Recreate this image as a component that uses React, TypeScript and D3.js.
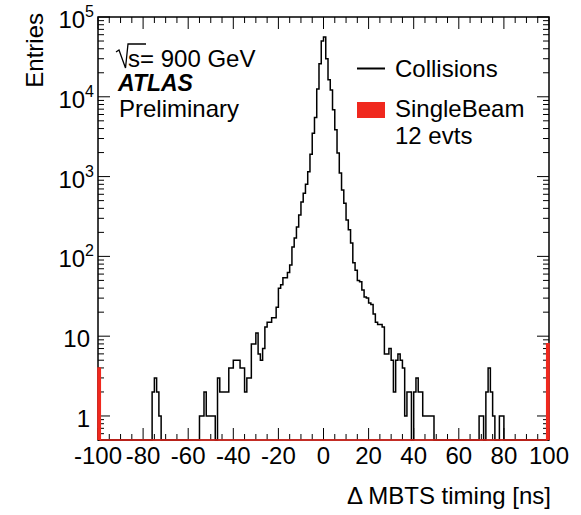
import React from "react";
import * as d3 from "d3";

// ---- data ----
const xTicksMajor = [-100, -80, -60, -40, -20, 0, 20, 40, 60, 80, 100];
const xTickLabels = ["-100", "-80", "-60", "-40", "-20", "0", "20", "40", "60", "80", "100"];
const yTickValues = [1, 10, 100, 1000, 10000, 100000];
const yTickBase = ["1", "10", "10", "10", "10", "10"];
const yTickExp = ["", "", "2", "3", "4", "5"];

const binWidth = 1; // ns
const histLow = -100;
const histHigh = 100;

// Collisions: counts per 1 ns bin, first bin starts at -76 ns
const collisionsFirstBin = -76;
const collisionsCounts = [
  2, 3, 2, 1, // -76..-73
  0, 0, 0, 0, 0, 0, 0, 0, 0, 0, 0, 0, 0, 0, 0, 0, 0, // -72..-56
  1, 1, 2, 1, 1, 1, 1, 0, // -55..-48
  3, 2, 2, 2, 2, // -47..-43
  4, 4, 5, 5, 5, 4, 4, 2, 3, 3, // -42..-33
  8, 8, 11, 6, 5, 7, // -32..-27
  13, 15, 15, 17, 17, 23, // -26..-21
  40, 44, 54, 54, 63, 78, // -20..-15
  131, 170, 234, 330, 480, 620, 800, 1150, 1900, 3500, 5500, 12500, 26000, 50000, // -14..-1
  56000, 30000, 16300, 12200, 6900, 3860, 1970, 1110, 680, 465, // 0..9
  285, 215, 147, 83, 67, 50, 48, 38, 31, 30, // 10..19
  26, 25, 19, 15, 14, 14, 13, 6, 6, 7, // 20..29
  5, 2, 5, 6, 5, 4, 1, 2, 2, 0, // 30..39
  2, 3, 2, 2, 1, 1, 1, 1, 1, // 40..48
  0, 0, 0, 0, 0, 0, 0, 0, 0, 0, 0, 0, 0, 0, 0, 0, 0, 0, 0, 0, // 49..68
  1, 1, 0, 2, 4, 2, 1, 0, 0, 1, 1, // 69..79
];

// SingleBeam: 12 events, all in the edge bins
const singleBeamBins = [-100, 99];
const singleBeamCounts = [4, 8];

const legendLabels = ["Collisions", "SingleBeam", "12 evts"];

// ---- layout ----
const W = 581;
const H = 515;
const frame = { left: 98, right: 549, top: 17, bottom: 440 };
const yMin = 0.5;
const yMax = 1e5;
const RED = "#f0281e";
const FONT = "'Liberation Sans', Arial, Helvetica, sans-serif";

function binsFull(firstBin: number, counts: number[]) {
  const n = Math.round((histHigh - histLow) / binWidth);
  const arr: { x0: number; x1: number; v: number }[] = [];
  for (let i = 0; i < n; i++) {
    const x0 = histLow + i * binWidth;
    const idx = Math.round((x0 - firstBin) / binWidth);
    const v = idx >= 0 && idx < counts.length ? counts[idx] : 0;
    arr.push({ x0, x1: x0 + binWidth, v });
  }
  return arr;
}

export default function App() {
  const x = d3.scaleLinear().domain([histLow, histHigh]).range([frame.left, frame.right]);
  const y = d3.scaleLog().domain([yMin, yMax]).range([frame.bottom, frame.top]).clamp(true);

  const yv = (v: number) => (v <= 0 ? frame.bottom : y(Math.max(v, yMin)));

  const coll = binsFull(collisionsFirstBin, collisionsCounts);
  const stepPath = (bins: { x0: number; x1: number; v: number }[]) => {
    let p = `M${x(bins[0].x0)},${frame.bottom}`;
    bins.forEach((b) => {
      p += `L${x(b.x0)},${yv(b.v)}L${x(b.x1)},${yv(b.v)}`;
    });
    p += `L${x(bins[bins.length - 1].x1)},${frame.bottom}`;
    return p;
  };
  const collPath = stepPath(coll);

  const sbCounts = new Array(Math.round((histHigh - histLow) / binWidth)).fill(0);
  singleBeamBins.forEach((b, i) => {
    sbCounts[Math.round((b - histLow) / binWidth)] = singleBeamCounts[i];
  });
  const sb = binsFull(histLow, sbCounts);
  const sbPath = stepPath(sb);

  // ticks
  const xMinor = d3.range(histLow, histHigh + 0.001, 5).filter((v) => !xTicksMajor.includes(v));
  const yMinor: number[] = [];
  for (let e = -1; e <= 4; e++) {
    for (let k = 2; k <= 9; k++) {
      const v = k * Math.pow(10, e);
      if (v > yMin && v < yMax) yMinor.push(v);
    }
  }
  const majLen = 12;
  const minLen = 6;

  return (
    <svg
      width={W}
      height={H}
      style={{ position: "absolute", left: 0, top: 0, background: "#fff" }}
      fontFamily={FONT}
    >
      <rect x={0} y={0} width={W} height={H} fill="#fff" />
      {/* collisions histogram */}
      <path d={collPath} fill="none" stroke="#000" strokeWidth={1.5} strokeLinejoin="miter" />

      {/* frame */}
      <rect
        x={frame.left}
        y={frame.top}
        width={frame.right - frame.left}
        height={frame.bottom - frame.top}
        fill="none"
        stroke="#000"
        strokeWidth={1.5}
      />
      {/* x ticks */}
      {xTicksMajor.map((v) => (
        <g key={"xm" + v}>
          <line x1={x(v)} x2={x(v)} y1={frame.bottom} y2={frame.bottom - majLen} stroke="#000" strokeWidth={1} />
          <line x1={x(v)} x2={x(v)} y1={frame.top} y2={frame.top + majLen} stroke="#000" strokeWidth={1} />
        </g>
      ))}
      {xMinor.map((v) => (
        <g key={"xn" + v}>
          <line x1={x(v)} x2={x(v)} y1={frame.bottom} y2={frame.bottom - minLen} stroke="#000" strokeWidth={1} />
          <line x1={x(v)} x2={x(v)} y1={frame.top} y2={frame.top + minLen} stroke="#000" strokeWidth={1} />
        </g>
      ))}
      {/* y ticks */}
      {yTickValues.map((v) => (
        <g key={"ym" + v}>
          <line x1={frame.left} x2={frame.left + majLen} y1={y(v)} y2={y(v)} stroke="#000" strokeWidth={1} />
          <line x1={frame.right} x2={frame.right - majLen} y1={y(v)} y2={y(v)} stroke="#000" strokeWidth={1} />
        </g>
      ))}
      {yMinor.map((v) => (
        <g key={"yn" + v}>
          <line x1={frame.left} x2={frame.left + minLen} y1={y(v)} y2={y(v)} stroke="#000" strokeWidth={1} />
          <line x1={frame.right} x2={frame.right - minLen} y1={y(v)} y2={y(v)} stroke="#000" strokeWidth={1} />
        </g>
      ))}

      {/* single beam histogram (drawn over frame) */}
      <path d={sbPath} fill={RED} stroke={RED} strokeWidth={1.6} />

      {/* x tick labels */}
      {xTicksMajor.map((v, i) => (
        <text key={"xl" + v} x={x(v)} y={464} textAnchor="middle" fontSize={24} fill="#000">
          {xTickLabels[i]}
        </text>
      ))}
      {/* y tick labels */}
      {yTickValues.map((v, i) =>
        yTickExp[i] === "" ? (
          <text key={"yl" + v} x={90} y={y(v) + 11} textAnchor="end" fontSize={24} fill="#000">
            {yTickBase[i]}
          </text>
        ) : (
          <text key={"yl" + v} x={94} y={y(v) + 11} textAnchor="end" fontSize={24} fill="#000">
            <tspan>{yTickBase[i]}</tspan>
            <tspan fontSize={16} dy={-11}>
              {yTickExp[i]}
            </tspan>
          </text>
        )
      )}

      {/* axis titles */}
      <text x={551} y={504} textAnchor="end" fontSize={24} fill="#000">
        Δ MBTS timing [ns]
      </text>
      <text transform="translate(43,13) rotate(-90)" textAnchor="end" fontSize={24} fill="#000">
        Entries
      </text>

      {/* annotations */}
      <path d="M116,52 L119,50 L125.5,68 L128,44 L146,44" fill="none" stroke="#000" strokeWidth={1.3} />
      <text x={128} y={67} fontSize={24} fill="#000">
        s= 900 GeV
      </text>
      <text x={118} y={91} fontSize={23} fontWeight="bold" fontStyle="italic" fill="#000">
        ATLAS
      </text>
      <text x={119} y={117} fontSize={24} fill="#000">
        Preliminary
      </text>

      {/* legend */}
      <line x1={357} x2={385} y1={68.5} y2={68.5} stroke="#000" strokeWidth={2} />
      <text x={395} y={77} fontSize={24} fill="#000">
        {legendLabels[0]}
      </text>
      <rect x={357} y={102} width={28} height={16} fill={RED} />
      <text x={395} y={117} fontSize={24} fill="#000">
        {legendLabels[1]}
      </text>
      <text x={395} y={144} fontSize={24} fill="#000">
        {legendLabels[2]}
      </text>
    </svg>
  );
}
